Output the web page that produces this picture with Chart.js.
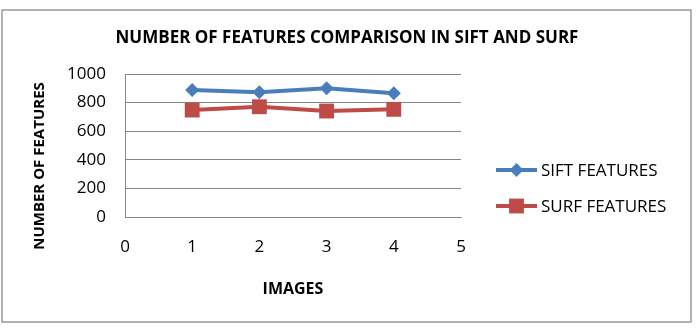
<html>
<head>
<meta charset="utf8"/>
<title>Number of features comparison</title>
<script src="https://cdn.jsdelivr.net/npm/chart.js"></script>
<style type="text/css">
html, body{
  margin: 0;
  padding: 0;
  background-color: #fff;
}
#featChart{
  display: block;
}
</style>
</head>
<body>
<canvas id="featChart" width="697" height="330"></canvas>
<script>
// data
const images = [1, 2, 3, 4];
const siftFeatures = [888, 872, 900, 865];
const surfFeatures = [748, 771, 741, 753];
const yTicks = [0, 200, 400, 600, 800, 1000];
const xTicks = [0, 1, 2, 3, 4, 5];

const FONT = "'Open Sans', 'Liberation Sans', sans-serif";
const BLUE = '#4a7ebb';
const RED = '#be4b48';

function toPoints(xs, ys){
  return xs.map(function(x, i){ return { x: x, y: ys[i] }; });
}

// frame, chart title, rotated y title and the legend on the right
const extras = {
  id: 'extras',
  beforeDraw(chart){
    const c = chart.ctx;
    c.save();
    c.fillStyle = '#fff';
    c.fillRect(0, 0, chart.width, chart.height);
    c.strokeStyle = '#9a9a9a';
    c.lineWidth = 1.5;
    c.strokeRect(2, 10, 689, 312);
    c.restore();
  },
  afterDraw(chart){
    const c = chart.ctx;
    c.save();
    c.font = 'bold 17px ' + FONT;
    c.fillStyle = '#000';
    c.textAlign = 'center';
    c.textBaseline = 'middle';
    c.fillText('NUMBER OF FEATURES COMPARISON IN SIFT AND SURF', 347, 38);

    // y axis title
    c.translate(40, 166);
    c.rotate(-Math.PI / 2);
    c.font = 'bold 15px ' + FONT;
    c.fillText('NUMBER OF FEATURES', 0, 0);
    c.restore();

    // legend
    const rows = [170, 206];
    chart.data.datasets.forEach(function(ds, i){
      const y = rows[i];
      c.save();
      c.strokeStyle = ds.borderColor;
      c.lineWidth = ds.borderWidth;
      c.beginPath();
      c.moveTo(496, y);
      c.lineTo(537, y);
      c.stroke();
      c.fillStyle = ds.pointBackgroundColor;
      Chart.helpers.drawPoint(c, { pointStyle: ds.pointStyle, radius: ds.pointRadius, borderWidth: 0 }, 516.5, y);
      c.fillStyle = '#000';
      c.font = '17px ' + FONT;
      c.textAlign = 'left';
      c.textBaseline = 'middle';
      c.fillText(ds.label, 541, y + 1);
      c.restore();
    });
  }
};

new Chart(document.getElementById('featChart'), {
  type: 'line',
  data: {
    datasets: [{
      label: 'SIFT FEATURES',
      data: toPoints(images, siftFeatures),
      borderColor: BLUE,
      backgroundColor: BLUE,
      pointBackgroundColor: BLUE,
      pointBorderColor: BLUE,
      borderWidth: 4,
      pointStyle: 'rectRot',
      pointRadius: 7,
      pointBorderWidth: 0,
      tension: 0
    }, {
      label: 'SURF FEATURES',
      data: toPoints(images, surfFeatures),
      borderColor: RED,
      backgroundColor: RED,
      pointBackgroundColor: RED,
      pointBorderColor: RED,
      borderWidth: 4,
      pointStyle: 'rect',
      pointRadius: 10.5,
      pointBorderWidth: 0,
      tension: 0
    }]
  },
  options: {
    responsive: false,
    animation: false,
    events: [],
    layout: {
      padding: { left: 0, right: 236, top: 74, bottom: 0 }
    },
    plugins: {
      legend: { display: false },
      tooltip: { enabled: false },
      title: { display: false }
    },
    scales: {
      x: {
        type: 'linear',
        min: 0,
        max: 5,
        afterBuildTicks: function(scale){
          scale.ticks = xTicks.map(function(v){ return { value: v }; });
        },
        afterFit: function(scale){ scale.height = 113; },
        grid: { display: false, drawTicks: false },
        border: { display: true, color: '#878787', width: 1 },
        ticks: {
          color: '#000',
          padding: 20,
          font: { family: FONT, size: 17 }
        },
        title: {
          display: true,
          text: 'IMAGES',
          color: '#000',
          font: { family: FONT, size: 16, weight: 'bold' },
          padding: { top: 0, bottom: 31 }
        }
      },
      y: {
        min: 0,
        max: 1000,
        afterBuildTicks: function(scale){
          scale.ticks = yTicks.map(function(v){ return { value: v }; });
        },
        afterFit: function(scale){ scale.width = 125; },
        grid: { color: '#878787', lineWidth: 1, drawTicks: false },
        border: { display: true, color: '#878787', width: 1 },
        ticks: {
          color: '#000',
          padding: 19,
          font: { family: FONT, size: 17 },
          callback: function(v){ return String(v); }
        }
      }
    }
  },
  plugins: [extras]
});
</script>
</body>
</html>
